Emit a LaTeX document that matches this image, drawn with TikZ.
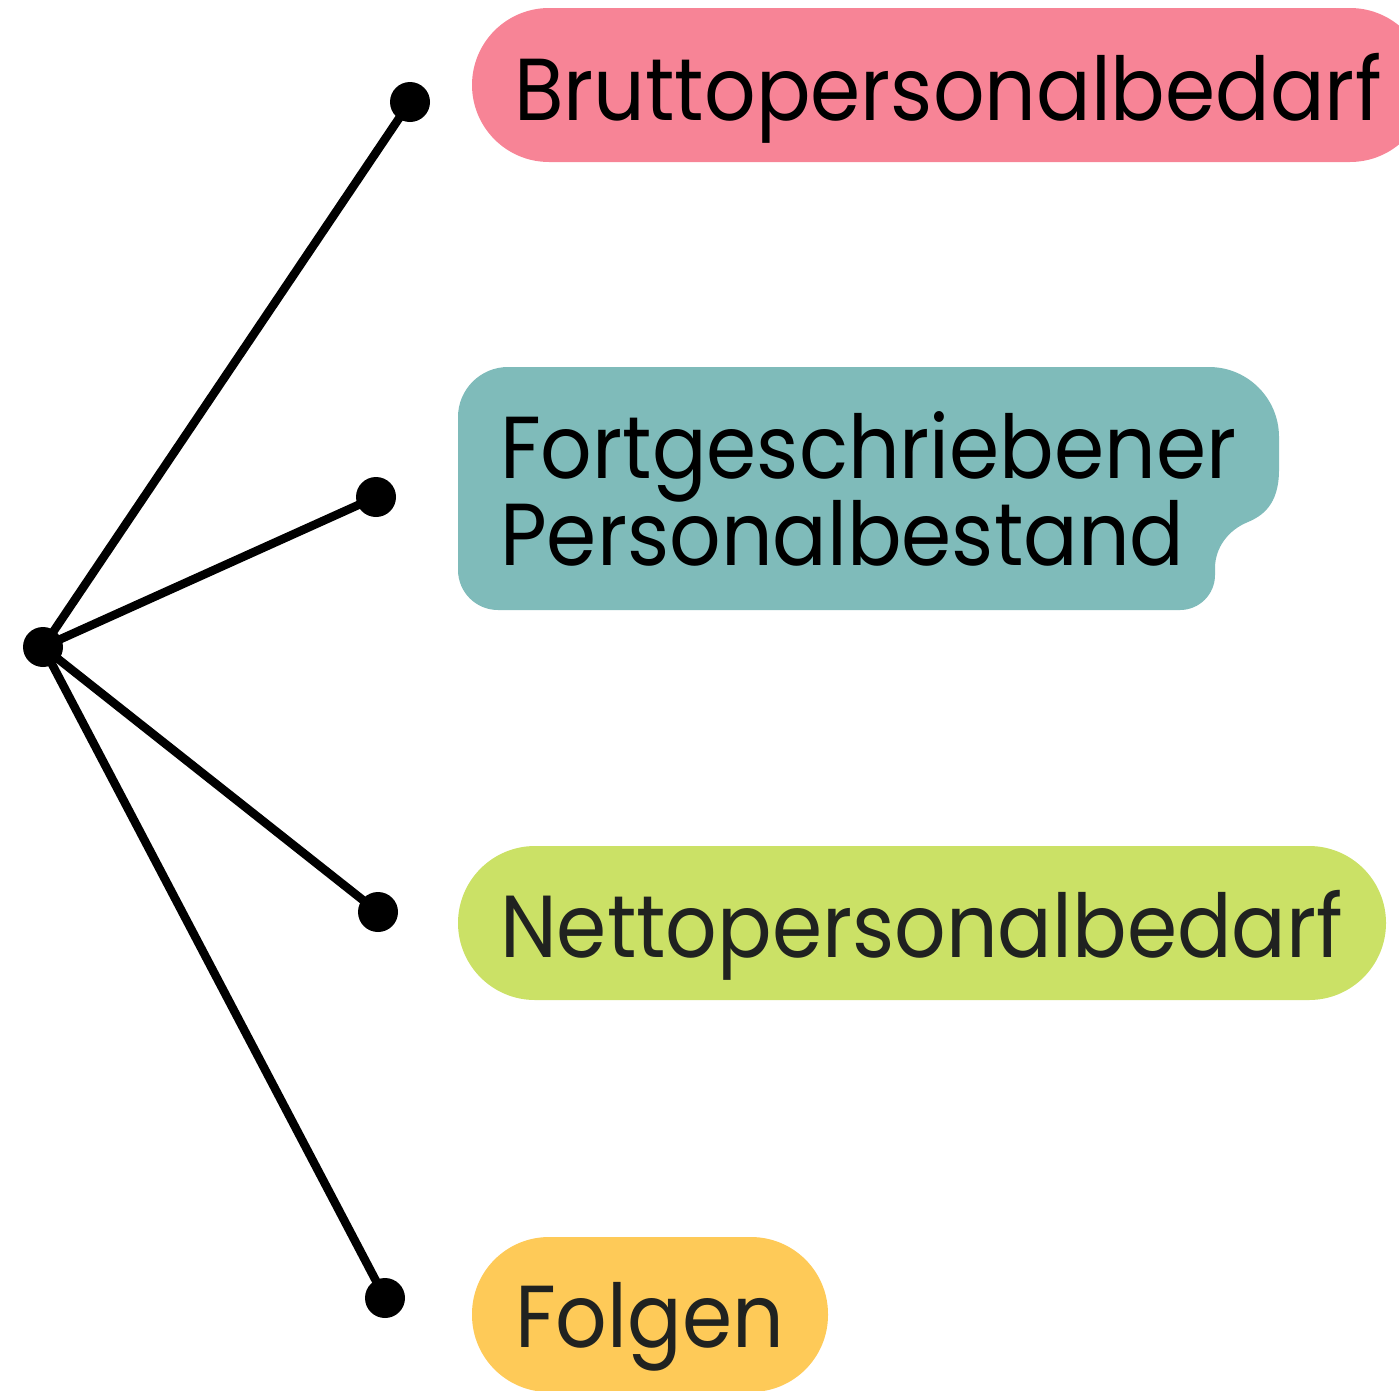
\documentclass[tikz,border=0pt]{standalone}
\usepackage{fontspec}
\setmainfont{Poppins}
\definecolor{pinkbox}{HTML}{F78496}
\definecolor{tealbox}{HTML}{7FBBBA}
\definecolor{greenbox}{HTML}{CBE166}
\definecolor{yellowbox}{HTML}{FECA58}
\definecolor{ink}{HTML}{202220}
% narrow the label face a little so the words fit their boxes
\newcommand{\labeltext}[1]{\scalebox{0.918}[1]{#1}}
\tikzset{
  label text/.style={anchor=base west, inner sep=0pt, font=\fontsize{88}{88}\selectfont, text=ink},
  dotnode/.style={circle, fill=black, minimum size=40pt, inner sep=0pt},
  spoke/.style={line width=8.5pt, line cap=round, draw=black},
}
\begin{document}
\begin{tikzpicture}[x=1pt,y=-1pt]
  \useasboundingbox (0,0) rectangle (1399,1390);
  \clip (0,0) rectangle (1399,1390);
  % coloured label backgrounds
  \fill[pinkbox, rounded corners=77pt] (472,8) rectangle (1427,162);
  \fill[greenbox, rounded corners=77pt] (458,846) rectangle (1386,1000);
  \fill[yellowbox, rounded corners=77pt] (472,1237) rectangle (828,1392);
  \fill[tealbox]
    (508,367) -- (1209,367) arc[start angle=90, end angle=0, radius=70pt]
    -- (1279,470) .. controls (1279,505) and (1262,516) .. (1248,522)
    .. controls (1228,530) and (1215,548) .. (1215,568)
    -- (1215,575) arc[start angle=0, end angle=-90, radius=35pt]
    -- (498,610) arc[start angle=270, end angle=180, radius=40pt]
    -- (458,417) arc[start angle=180, end angle=90, radius=50pt] -- cycle;
  % labels
  \node[label text, text=black] (brutto) at (514,120) {\labeltext{Bruttopersonalbedarf}};
  \node[label text, text=black] (fort) at (500,478) {\labeltext{Fortgeschriebener}};
  \node[label text, text=black] (bestand) at (500,565) {\labeltext{Personalbestand}};
  \node[label text] (netto) at (500,957) {\labeltext{Nettopersonalbedarf}};
  \node[label text] (folgen) at (515,1347) {\labeltext{Folgen}};
  % hub and end points
  \node[dotnode] (hub) at (43,647) {};
  \node[dotnode] (d1) at (410,102) {};
  \node[dotnode] (d2) at (376,497) {};
  \node[dotnode] (d3) at (378,912) {};
  \node[dotnode] (d4) at (385,1298) {};
  \foreach \d in {d1,d2,d3,d4}
    \draw[spoke] (hub.center) -- (\d.center);
\end{tikzpicture}
\end{document}
